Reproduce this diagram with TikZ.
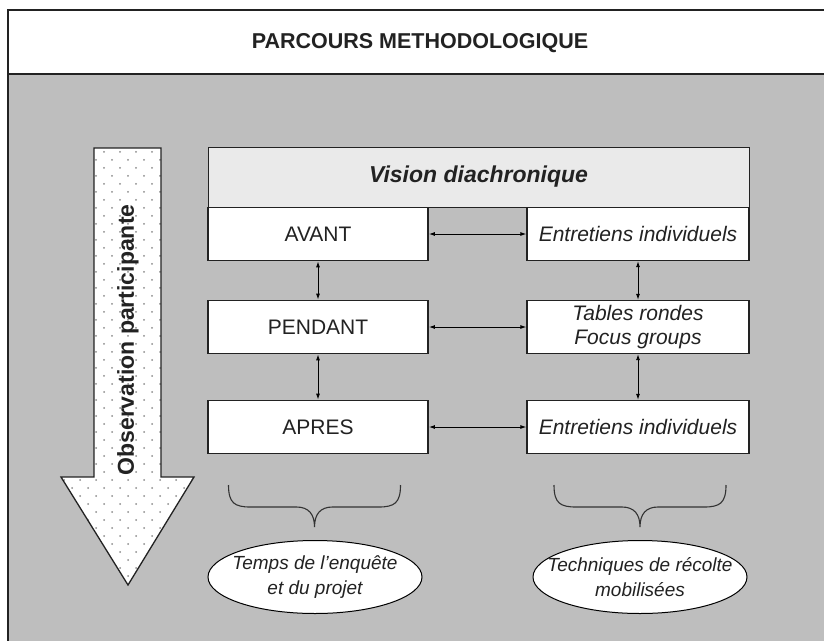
\documentclass[tikz,border=0pt]{standalone}
\usepackage{fontspec}
\setmainfont{Liberation Sans}
\usetikzlibrary{shapes.geometric,arrows.meta,patterns}

\definecolor{bggray}{HTML}{BEBEBE}
\definecolor{visiongray}{HTML}{EAEAEA}
\definecolor{inkgray}{HTML}{222222}

% sparse staggered dots for the big arrow
\pgfdeclarepatternformonly{sparsedots}{\pgfqpoint{-2pt}{-2pt}}{\pgfqpoint{18pt}{18pt}}{\pgfqpoint{16pt}{16pt}}{%
  \pgfpathcircle{\pgfqpoint{0pt}{0pt}}{1pt}%
  \pgfpathcircle{\pgfqpoint{8pt}{8pt}}{1pt}%
  \pgfusepath{fill}}

\begin{document}
\begin{tikzpicture}[x=1pt,y=-1pt,
  stagebox/.style={draw=inkgray,line width=1.8pt,fill=white,minimum width=220pt,minimum height=53pt,inner sep=0pt,font=\fontsize{21}{24}\selectfont,text=inkgray},
  techbox/.style={stagebox,line width=1.3pt,minimum width=222pt,font=\fontsize{21}{24}\selectfont\itshape,align=center},
  link/.style={{Latex[length=6pt,width=4pt]}-{Latex[length=6pt,width=4pt]},line width=0.9pt,draw=black},
  bubble/.style={ellipse,draw=black,line width=1pt,fill=white,minimum width=214pt,minimum height=73pt,inner sep=0pt},
  bubtext/.style={align=center,font=\fontsize{19}{25}\selectfont\itshape,text=inkgray},
  bracket/.style={draw=black!80,line width=1.1pt}]
\useasboundingbox (0,0) rectangle (824,640);
\clip (0,0) rectangle (824,640);
% frame and title band
\fill[white] (0,0) rectangle (824,640);
\fill[bggray] (8,74) rectangle (840,660);
\draw[inkgray,line width=1.5pt] (8,10) rectangle (840,660);
\draw[inkgray,line width=1.8pt] (8,74) -- (840,74);
\node[font=\fontsize{21.5}{22}\selectfont\bfseries,text=inkgray] (title) at (420,43) {PARCOURS METHODOLOGIQUE};

% big arrow
\draw[preaction={fill=white},pattern=sparsedots,pattern color=black!45,draw=inkgray,line width=1.3pt]
  (94,148) -- (161,148) -- (161,477) -- (194,477) -- (128,585) -- (61,477) -- (94,477) -- cycle;
\node[rotate=90,font=\fontsize{23}{24}\selectfont\bfseries,text=inkgray] (observ) at (128,340) {Observation participante};

% boxes
\node[draw=inkgray,line width=1pt,fill=visiongray,minimum width=541pt,minimum height=60pt,inner sep=0pt,
  font=\fontsize{23}{24}\selectfont\bfseries\itshape,text=inkgray] (vision) at (478.5,177) {Vision diachronique};
\node[stagebox] (avant) at (318,234) {AVANT};
\node[stagebox] (pendant) at (318,327) {PENDANT};
\node[stagebox] (apres) at (318,427) {APRES};
\node[techbox] (ent1) at (638,234) {Entretiens individuels};
\node[techbox] (tables) at (638,327) {Tables rondes\\Focus groups};
\node[techbox] (ent2) at (638,427) {Entretiens individuels};

\draw[link] (avant) -- (ent1);
\draw[link] (pendant) -- (tables);
\draw[link] (apres) -- (ent2);
\draw[link] (avant) -- (pendant);
\draw[link] (pendant) -- (apres);
\draw[link] (ent1) -- (tables);
\draw[link] (tables) -- (ent2);

% braces
\foreach \bx in {314.5,640}{
  \draw[bracket] (\bx-86,485) .. controls (\bx-86,503) and (\bx-80,507) .. (\bx-64,507) -- (\bx-18,507)
    .. controls (\bx-6,507) and (\bx,514) .. (\bx,527)
    .. controls (\bx,514) and (\bx+6,507) .. (\bx+18,507) -- (\bx+64,507)
    .. controls (\bx+80,507) and (\bx+86,503) .. (\bx+86,485);
}

% ellipses
\node[bubble,label={[bubtext]center:{Temps de l’enquête\\et du projet}}] (temps) at (315,577) {};
\node[bubble,label={[bubtext]center:{Techniques de récolte\\mobilisées}}] (techniques) at (640,577) {};
\end{tikzpicture}
\end{document}
